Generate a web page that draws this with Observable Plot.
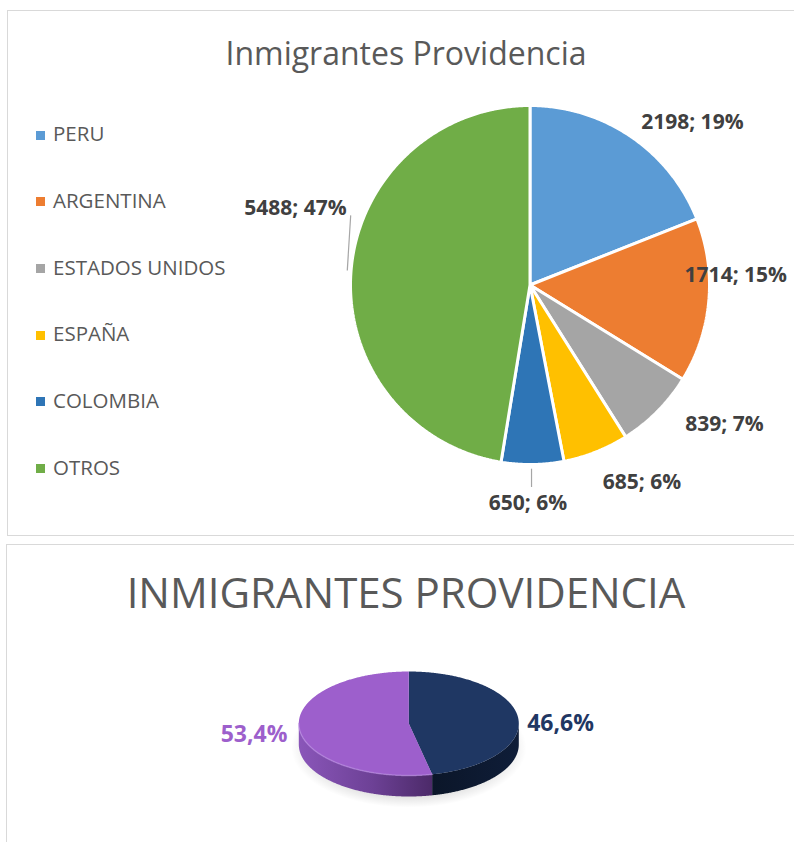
<!DOCTYPE html>
<html>
<head>
<meta charset="utf-8">
<script src="https://cdn.jsdelivr.net/npm/d3@7"></script>
<script src="https://cdn.jsdelivr.net/npm/@observablehq/plot@0.6"></script>
<style>
  html, body { margin: 0; padding: 0; width: 794px; height: 842px; overflow: hidden; background: #fff; font-family: "Open Sans", sans-serif; }
  .panel { position: absolute; border: 1px solid #d9d9d9; box-sizing: border-box; }
  .title { position: absolute; left: 0; width: 812px; text-align: center; color: #595959; white-space: nowrap; line-height: 1.362; }
  .leg { position: absolute; left: 0; font-size: 20.5px; color: #595959; line-height: 1.362; white-space: nowrap; }
  .sw { position: absolute; width: 9px; height: 9px; left: 36px; }
  .plotbox { position: absolute; left: 0; }
</style>
</head>
<body>
<div class="panel" style="left:7px;top:10px;width:820px;height:526px"></div>
<div class="panel" style="left:6px;top:544px;width:820px;height:340px"></div>
<div class="title" id="t1" style="font-size:32px;top:30.8px">Inmigrantes Providencia</div>
<div class="title" id="t2" style="font-size:42px;top:563px">INMIGRANTES PROVIDENCIA</div>
<div id="legend"></div>
<div class="plotbox" id="pie1" style="top:0"></div>
<div class="plotbox" id="pie2" style="top:545px"></div>
<script>
// ---------- DATA ----------
const categories = ["PERU", "ARGENTINA", "ESTADOS UNIDOS", "ESPAÑA", "COLOMBIA", "OTROS"];
const values = [2198, 1714, 839, 685, 650, 5488];
const colors = ["#5B9BD5", "#ED7D31", "#A5A5A5", "#FFC000", "#2E75B6", "#70AD47"];

const shareNames = ["Grupo 1", "Grupo 2"];
const shareValues = [46.6, 53.4];
const shareColors = ["#1F3763", "#9D5FCC"];

// ---------- LAYOUT (label nudges, px, relative to slice outer edge midpoint) ----------
const labelNudge = {
  "PERU": [61.5, -8], "ARGENTINA": [27, -19], "ESTADOS UNIDOS": [67, 20],
  "ESPAÑA": [46, 37], "COLOMBIA": [-4.5, 45.5], "OTROS": [-55.6, -55]
};
const leaderNudge = {
  "COLOMBIA": [[-1, 4.2], [-1, 22.5]],
  "OTROS": [[-3.8, 0], [-0.4, -55.1]]
};

// ---------- LEGEND ----------
const legend = document.getElementById("legend");
categories.forEach((c, i) => {
  const base = 142 + 66.7 * i;
  const sw = document.createElement("div");
  sw.className = "sw"; sw.style.top = (base - 11.5) + "px"; sw.style.background = colors[i];
  const tx = document.createElement("div");
  tx.className = "leg"; tx.style.left = "53px"; tx.style.top = (base - 21.9) + "px"; tx.textContent = c;
  legend.appendChild(sw); legend.appendChild(tx);
});

// ---------- TOP PIE ----------
const R = 179.5, CX = 529.5, CY = 284.5, W1 = 794, H1 = 540;
const total = d3.sum(values);
let acc = 0;
const slices = categories.map((c, i) => {
  const a0 = acc / total * 2 * Math.PI; acc += values[i];
  const a1 = acc / total * 2 * Math.PI;
  return { c, v: values[i], a0, a1, mid: (a0 + a1) / 2, pct: Math.round(values[i] / total * 100) };
});
const pts = [];
slices.forEach(s => {
  pts.push({ c: s.c, x: 0, y: 0 });
  const n = Math.max(2, Math.ceil((s.a1 - s.a0) / (Math.PI / 360)));
  for (let k = 0; k <= n; k++) {
    const a = s.a0 + (s.a1 - s.a0) * k / n;
    pts.push({ c: s.c, x: Math.sin(a), y: Math.cos(a) });
  }
  pts.push({ c: s.c, x: 0, y: 0 });
});
const labels = slices.map(s => {
  const [dx, dy] = labelNudge[s.c];
  return { c: s.c, x: Math.sin(s.mid) + dx / R, y: Math.cos(s.mid) - dy / R, text: `${s.v}; ${s.pct}%` };
});
const leaders = slices.filter(s => leaderNudge[s.c]).map(s => {
  const [[x1, y1], [x2, y2]] = leaderNudge[s.c];
  const ex = Math.sin(s.mid), ey = Math.cos(s.mid);
  return { x1: ex + x1 / R, y1: ey - y1 / R, x2: ex + x2 / R, y2: ey - y2 / R };
});

const pie1 = Plot.plot({
  width: W1, height: H1, margin: 0,
  style: { fontFamily: "'Open Sans', sans-serif", background: "transparent" },
  x: { domain: [-CX / R, (W1 - CX) / R], axis: null },
  y: { domain: [(CY - H1) / R, CY / R], axis: null },
  color: { domain: categories, range: colors },
  marks: [
    Plot.line(pts, { x: "x", y: "y", z: "c", fill: "c", stroke: "white", strokeWidth: 3, strokeLinejoin: "miter" }),
    Plot.link(leaders, { x1: "x1", y1: "y1", x2: "x2", y2: "y2", stroke: "#A6A6A6", strokeWidth: 1.2 }),
    Plot.text(labels, { x: "x", y: "y", text: "text", fontSize: 21, fontWeight: "bold", fill: "#404040", textAnchor: "middle", lineAnchor: "bottom" })
  ]
});
document.getElementById("pie1").appendChild(pie1);

// ---------- BOTTOM 3D PIE ----------
const U = 110, PCX = 408.3, PCY = 178, W2 = 794, H2 = 297;
const tilt = 52 / U, depth = 21 / U;
const sTotal = d3.sum(shareValues);
let acc2 = 0;
const sSlices = shareNames.map((n, i) => {
  const a0 = acc2 / sTotal * 2 * Math.PI; acc2 += shareValues[i];
  const a1 = acc2 / sTotal * 2 * Math.PI;
  return { n, v: shareValues[i], a0, a1, mid: (a0 + a1) / 2, i };
});
const step = Math.PI / 360;
function arcPts(a0, a1, f) {
  const out = []; const n = Math.max(2, Math.ceil(Math.abs(a1 - a0) / step));
  for (let k = 0; k <= n; k++) { const a = a0 + (a1 - a0) * k / n; out.push(f(a)); }
  return out;
}
const topPts = [], sidePts = [], rimPts = [];
sSlices.forEach(s => {
  topPts.push({ n: s.n, x: 0, y: 0 });
  arcPts(s.a0, s.a1, a => ({ n: s.n, x: Math.sin(a), y: Math.cos(a) * tilt })).forEach(p => topPts.push(p));
  topPts.push({ n: s.n, x: 0, y: 0 });
  const f0 = Math.max(s.a0, Math.PI / 2), f1 = Math.min(s.a1, 3 * Math.PI / 2);
  if (f1 > f0) {
    const upper = arcPts(f0, f1, a => ({ n: s.n, x: Math.sin(a), y: Math.cos(a) * tilt }));
    const lower = arcPts(f1, f0, a => ({ n: s.n, x: Math.sin(a), y: Math.cos(a) * tilt - depth }));
    upper.concat(lower).forEach(p => sidePts.push(p));
    if (s.i === 1) upper.forEach(p => rimPts.push(p));
  }
});
const shadowPts = arcPts(0, 2 * Math.PI, a => ({ x: Math.sin(a) * 1.07, y: Math.cos(a) * tilt * 1.15 - depth - 0.03 }));
const fmt = v => d3.format(".1f")(v).replace(".", ",") + "%";
const sLabels = sSlices.map(s => {
  const ex = Math.sin(s.mid), ey = Math.cos(s.mid) * tilt;
  const right = ex > 0;
  return { n: s.n, x: ex + (right ? 9 : -12) / U, y: ey - 6 / U, text: fmt(s.v), anchor: right ? "start" : "end" };
});

const pie2 = Plot.plot({
  width: W2, height: H2, margin: 0,
  style: { fontFamily: "'Open Sans', sans-serif", background: "transparent" },
  x: { domain: [-PCX / U, (W2 - PCX) / U], axis: null },
  y: { domain: [(PCY - H2) / U, PCY / U], axis: null },
  color: { domain: shareNames, range: shareColors },
  marks: [
    Plot.line(shadowPts, { x: "x", y: "y", fill: "url(#shadowGrad)", stroke: "none" }),
    Plot.line(sidePts.filter(p => p.n === shareNames[0]), { x: "x", y: "y", fill: "url(#sideNavy)", stroke: "none" }),
    Plot.line(sidePts.filter(p => p.n === shareNames[1]), { x: "x", y: "y", fill: "url(#sidePurple)", stroke: "none" }),
    Plot.line(topPts, { x: "x", y: "y", z: "n", fill: "n", stroke: "none" }),
    Plot.line(rimPts, { x: "x", y: "y", stroke: "#B98AE3", strokeWidth: 1.5, strokeOpacity: 0.6 }),
    Plot.text(sLabels.filter(d => d.anchor === "start"), { x: "x", y: "y", text: "text", fill: "n", fontSize: 23, fontWeight: "bold", textAnchor: "start", lineAnchor: "middle" }),
    Plot.text(sLabels.filter(d => d.anchor === "end"), { x: "x", y: "y", text: "text", fill: "n", fontSize: 23, fontWeight: "bold", textAnchor: "end", lineAnchor: "middle" })
  ]
});
const defs = d3.select(pie2).insert("defs", ":first-child");
const gN = defs.append("linearGradient").attr("id", "sideNavy").attr("x1", 0).attr("x2", 1).attr("y1", 0).attr("y2", 0);
gN.append("stop").attr("offset", 0).attr("stop-color", "#0B1629");
gN.append("stop").attr("offset", 1).attr("stop-color", "#0F1D38");
const gP = defs.append("linearGradient").attr("id", "sidePurple").attr("x1", 0).attr("x2", 1).attr("y1", 0).attr("y2", 0);
gP.append("stop").attr("offset", 0).attr("stop-color", "#8A56B9");
gP.append("stop").attr("offset", 0.55).attr("stop-color", "#6D4196");
gP.append("stop").attr("offset", 1).attr("stop-color", "#4C2A69");
const gS = defs.append("radialGradient").attr("id", "shadowGrad").attr("cx", 0.5).attr("cy", 0.5).attr("r", 0.5);
gS.append("stop").attr("offset", 0).attr("stop-color", "#000").attr("stop-opacity", 0.22);
gS.append("stop").attr("offset", 0.8).attr("stop-color", "#000").attr("stop-opacity", 0.12);
gS.append("stop").attr("offset", 1).attr("stop-color", "#000").attr("stop-opacity", 0);
document.getElementById("pie2").appendChild(pie2);
</script>
</body>
</html>
